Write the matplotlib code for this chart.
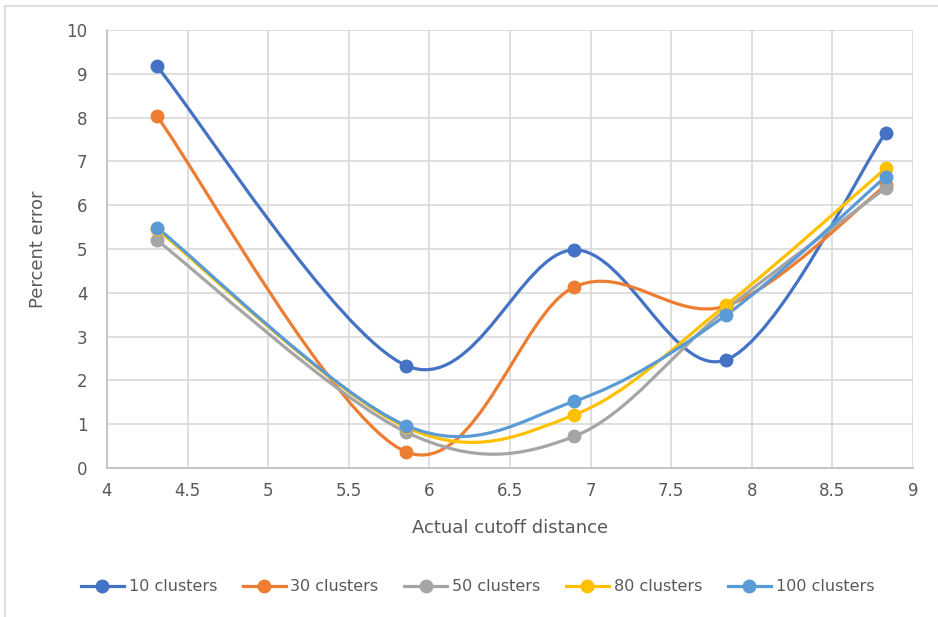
import matplotlib.pyplot as plt
from matplotlib.path import Path
from matplotlib.patches import PathPatch
from matplotlib.lines import Line2D

# datos
distancia = [4.31, 5.855, 6.897, 7.84, 8.83]
err_10 = [9.17, 2.34, 4.98, 2.47, 7.65]
err_30 = [8.03, 0.37, 4.13, 3.70, 6.45]
err_50 = [5.20, 0.82, 0.72, 3.62, 6.39]
err_80 = [5.45, 0.93, 1.21, 3.72, 6.84]
err_100 = [5.49, 0.97, 1.52, 3.49, 6.65]

series = [
    ("10 clusters", err_10, "#4472C4"),
    ("30 clusters", err_30, "#ED7D31"),
    ("50 clusters", err_50, "#A5A5A5"),
    ("80 clusters", err_80, "#FFC000"),
    ("100 clusters", err_100, "#5B9BD5"),
]

TEXTO = "#595959"
REJILLA = "#D9D9D9"


# curva suavizada estilo Excel (bezier cúbico tipo Catmull-Rom)
def camino_suave(xs, ys):
    pts = list(zip(xs, ys))
    n = len(pts)
    verts = [pts[0]]
    codes = [Path.MOVETO]
    for i in range(n - 1):
        p0 = pts[i - 1] if i > 0 else pts[i]
        p1 = pts[i]
        p2 = pts[i + 1]
        p3 = pts[i + 2] if i + 2 < n else pts[i + 1]
        c1 = (p1[0] + (p2[0] - p0[0]) / 6, p1[1] + (p2[1] - p0[1]) / 6)
        c2 = (p2[0] - (p3[0] - p1[0]) / 6, p2[1] - (p3[1] - p1[1]) / 6)
        verts += [c1, c2, p2]
        codes += [Path.CURVE4] * 3
    return Path(verts, codes)


fig = plt.figure(figsize=(9.38, 6.17), dpi=100)
ax = fig.add_axes([107 / 938, 149 / 617, (913 - 107) / 938, (468 - 30) / 617])

# marco del área del gráfico (solo arriba e izquierda, el resto queda recortado)
fig.lines.append(Line2D([5 / 938, 1], [611 / 617, 611 / 617], transform=fig.transFigure,
                        color="#D9D9D9", linewidth=1.2))
fig.lines.append(Line2D([5 / 938, 5 / 938], [0, 611 / 617], transform=fig.transFigure,
                        color="#D9D9D9", linewidth=1.2))

for nombre, valores, color in series:
    ax.add_patch(PathPatch(camino_suave(distancia, valores), fill=False, edgecolor=color,
                           linewidth=2.3, capstyle="round", zorder=3))
    ax.plot(distancia, valores, linestyle="none", marker="o", markersize=9, color=color, zorder=4)

ax.set_xlim(4, 9)
ax.set_ylim(0, 10)
ax.set_xticks([4, 4.5, 5, 5.5, 6, 6.5, 7, 7.5, 8, 8.5, 9])
ax.set_xticklabels(["4", "4.5", "5", "5.5", "6", "6.5", "7", "7.5", "8", "8.5", "9"])
ax.set_yticks(range(0, 11))
ax.grid(True, color=REJILLA, linewidth=1.2)
ax.set_axisbelow(True)
for lado in ["top", "right"]:
    ax.spines[lado].set_visible(False)
for lado in ["left", "bottom"]:
    ax.spines[lado].set_color("#BFBFBF")
    ax.spines[lado].set_linewidth(1.2)
ax.tick_params(length=0, labelsize=12, labelcolor=TEXTO, pad=10)
ax.tick_params(axis="y", pad=14)

ax.set_xlabel("Actual cutoff distance", fontsize=13, color=TEXTO, labelpad=14)
ax.set_ylabel("Percent error", fontsize=13, color=TEXTO, labelpad=14)

handles = [Line2D([], [], color=c, linewidth=2.3, marker="o", markersize=9) for _, _, c in series]
fig.legend(handles, [s[0] for s in series], loc="center", bbox_to_anchor=(0.509, 0.049), ncol=5,
           frameon=False, fontsize=11.5, labelcolor=TEXTO, handlelength=2.7, handletextpad=0.3,
           columnspacing=1.6)

fig.savefig("out.png", dpi=100)
